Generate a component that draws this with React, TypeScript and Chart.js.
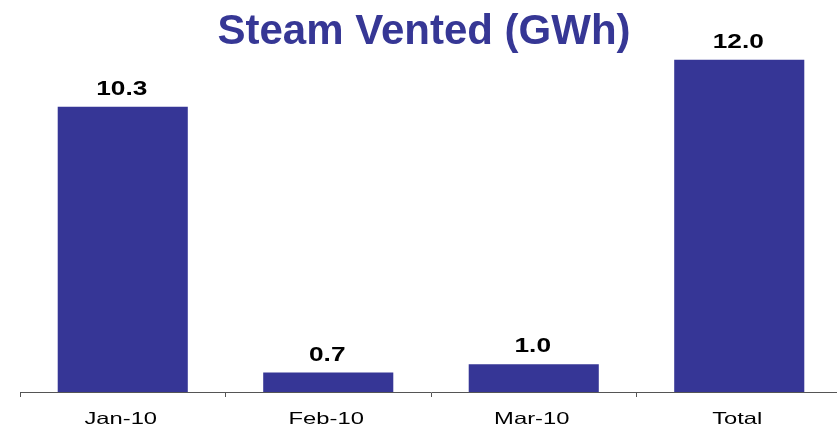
import React, { useEffect, useRef } from "react";
import { Chart, registerables } from "chart.js";

Chart.register(...registerables);

const categories = ["Jan-10", "Feb-10", "Mar-10", "Total"];
const steamVented = [10.3, 0.7, 1.0, 12.0];
const valueLabels = ["10.3", "0.7", "1.0", "12.0"];
const titleText = "Steam Vented (GWh)";

const BAR_COLOR = "#363696";
const TITLE_COLOR = "#363795";

function drawStretched(ctx: CanvasRenderingContext2D, text: string, x: number, y: number, sx: number) {
  ctx.save();
  ctx.translate(x, y);
  ctx.scale(sx, 1);
  ctx.fillText(text, 0, 0);
  ctx.restore();
}

const labelPlugin = {
  id: "customLabels",
  afterDraw(chart: any) {
    const ctx: CanvasRenderingContext2D = chart.ctx;
    const xScale = chart.scales.x;
    const meta = chart.getDatasetMeta(0);
    ctx.save();
    ctx.textAlign = "center";
    ctx.textBaseline = "alphabetic";
    // value labels
    ctx.fillStyle = "#000000";
    ctx.font = "bold 21px 'Liberation Sans', Arial, sans-serif";
    meta.data.forEach((bar: any, i: number) => {
      drawStretched(ctx, valueLabels[i], bar.x - 1, bar.y - 12, 1.25);
    });
    // category labels
    ctx.font = "16.5px 'Liberation Sans', Arial, sans-serif";
    categories.forEach((c, i) => {
      const x = xScale.getPixelForValue(i);
      drawStretched(ctx, c, x - 2, chart.chartArea.bottom + 32, 1.44);
    });
    ctx.restore();
  },
};

export default function App() {
  const ref = useRef<HTMLCanvasElement | null>(null);
  useEffect(() => {
    if (!ref.current) return;
    const chart = new Chart(ref.current, {
      type: "bar",
      data: {
        labels: categories,
        datasets: [
          {
            data: steamVented,
            backgroundColor: BAR_COLOR,
            borderWidth: 0,
            categoryPercentage: 1,
            barPercentage: 0.633,
          },
        ],
      },
      options: {
        responsive: false,
        animation: false,
        devicePixelRatio: 1,
        layout: { padding: { left: 6, right: 8, top: 0, bottom: 0 } },
        plugins: {
          legend: { display: false },
          tooltip: { enabled: false },
          title: {
            display: true,
            text: titleText,
            color: TITLE_COLOR,
            font: { family: "'Liberation Sans', Arial, sans-serif", size: 42, weight: "bold" },
            padding: { top: 7, bottom: 0 },
          },
        },
        scales: {
          x: {
            grid: {
              offset: true,
              drawOnChartArea: false,
              drawTicks: true,
              tickLength: 5,
              color: "#555555",
            },
            border: { display: true, color: "#555555", width: 1 },
            ticks: { display: false },
            afterFit: (scale: any) => {
              scale.height = 35;
            },
          },
          y: {
            display: true,
            min: 0,
            max: 12.085,
            grid: { display: false },
            border: { display: false },
            ticks: { display: false },
            afterFit: (scale: any) => {
              scale.width = 14;
            },
          },
        },
      },
      plugins: [labelPlugin],
    });
    return () => chart.destroy();
  }, []);
  return (
    <div style={{ position: "fixed", left: 0, top: 0, width: 837, height: 427, overflow: "hidden", background: "#fff" }}>
      <canvas ref={ref} width={850} height={427} style={{ display: "block" }} />
    </div>
  );
}
